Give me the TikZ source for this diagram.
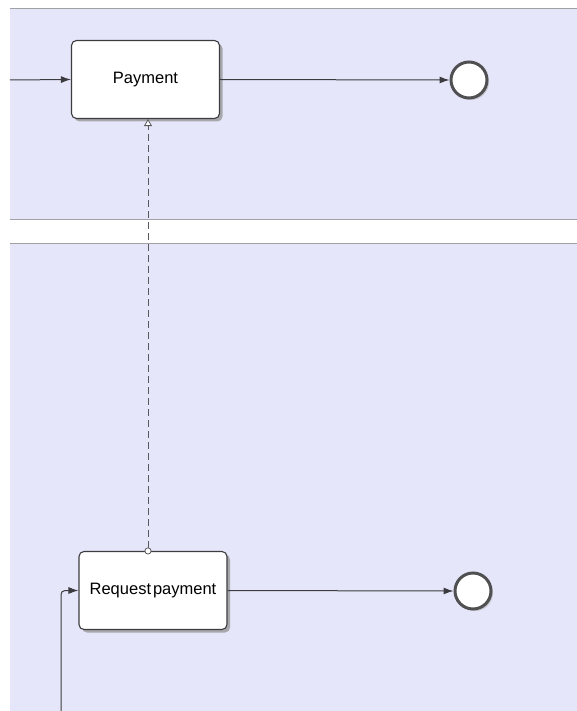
\documentclass[tikz,border=0pt]{standalone}
\usepackage{fontspec}
\setmainfont{Liberation Sans}
\usetikzlibrary{arrows.meta,shadows,calc}
\definecolor{lanefill}{RGB}{230,230,250}
\definecolor{laneline}{RGB}{160,160,165}
\definecolor{ink}{RGB}{60,60,64}
\tikzset{
  lane/.style={fill=lanefill, draw=none},
  laneborder/.style={draw=laneline, line width=1pt},
  task/.style={draw=ink, line width=1.1pt, fill=white, rounded corners=5pt,
    minimum width=148pt, minimum height=78pt, inner sep=0pt,
    font=\fontsize{16.5}{19}\selectfont,
    drop shadow={shadow xshift=3pt, shadow yshift=-3pt, fill=black!40, opacity=0.8}},
  endev/.style={circle, draw=ink!90, line width=3pt, fill=white, minimum size=36pt, inner sep=0pt,
    drop shadow={shadow xshift=2pt, shadow yshift=-2pt, fill=black!30, opacity=0.6}},
  flow/.style={draw=ink, line width=1pt, -{Latex[length=10pt,width=7pt]}},
  assoc/.style={draw=ink!85, line width=0.9pt, dash pattern=on 7pt off 4pt,
    {Circle[open,length=7pt,width=7pt,fill=white,line width=0.8pt]}-{Triangle[open,length=7pt,width=8pt,fill=white,line width=0.8pt]},
    shorten <=-3.5pt}
}
\begin{document}
\begin{tikzpicture}[x=1pt,y=-1pt]
\useasboundingbox (0,0) rectangle (577,711);
\fill[white] (0,0) rectangle (577,711);
% lanes
\fill[lane] (10,9) rectangle (577,220);
\fill[lane] (10,243) rectangle (577,711);
\draw[laneborder] (10,9) -- (577,9);
\draw[laneborder] (10,220) -- (577,220);
\draw[laneborder] (10,243) -- (577,243);
% nodes
\node[task] (pay) at (145.5,79.5) {Payment};
\node[task] (req) at (153,590.5) {Request\hspace{0.12em}payment};
\node[endev] (e1) at (469,80) {};
\node[endev] (e2) at (473,591) {};
% connectors
\coordinate (s1) at (10,80);
\coordinate (s2) at (61,711);
\draw[flow] (s1) -- (pay.west);
\draw[flow] (pay.east) -- (e1.west);
\draw[flow] (req.east) -- (e2.west);
\draw[flow, rounded corners=4pt] (s2) |- (req.west);
\draw[assoc] ([xshift=-5pt]req.north) -- ([xshift=2.5pt]pay.south);
\end{tikzpicture}
\end{document}
